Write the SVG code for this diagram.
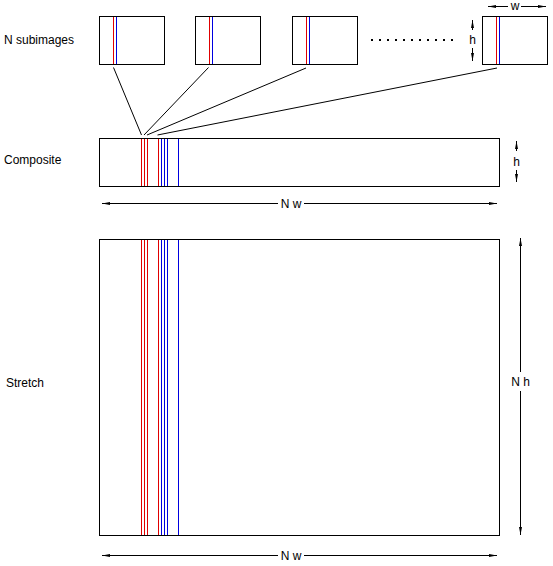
<svg xmlns="http://www.w3.org/2000/svg" width="553" height="566" viewBox="0 0 553 566">
<style>
text{font-family:"Liberation Sans",Arial,sans-serif;font-size:12px;fill:#000}
.box{fill:#fff;stroke:#000;stroke-width:1}
.r{stroke:#e00000;stroke-width:1}
.b{stroke:#0000e0;stroke-width:1}
.c{stroke:#000;stroke-width:1;fill:none}
.dim{stroke:#000;stroke-width:1;fill:none}
.ea{marker-end:url(#ah)}
</style>
<defs>
<marker id="ah" viewBox="0 0 8 6" refX="8" refY="3" markerWidth="8" markerHeight="6" markerUnits="userSpaceOnUse" orient="auto">
<path d="M0,1.5 L8,3 L0,4.5 Z" fill="#000"/>
</marker>
</defs>
<rect width="553" height="566" fill="#fff"/>
<text x="4" y="44">N subimages</text>
<text x="4" y="164">Composite</text>
<text x="6" y="387">Stretch</text>
<g id="sub1">
<rect class="box" x="99.5" y="16.5" width="65" height="48"/>
<line class="r" x1="113.5" y1="17" x2="113.5" y2="64"/>
<line class="b" x1="116.5" y1="17" x2="116.5" y2="64"/>
</g>
<g id="sub2">
<rect class="box" x="195.5" y="16.5" width="65" height="48"/>
<line class="r" x1="209.5" y1="17" x2="209.5" y2="64"/>
<line class="b" x1="212.5" y1="17" x2="212.5" y2="64"/>
</g>
<g id="sub3">
<rect class="box" x="292.5" y="16.5" width="65" height="48"/>
<line class="r" x1="306.5" y1="17" x2="306.5" y2="64"/>
<line class="b" x1="309.5" y1="17" x2="309.5" y2="64"/>
</g>
<g id="dots" fill="#000">
<rect x="371" y="39" width="2" height="2"/><rect x="379" y="39" width="2" height="2"/><rect x="387" y="39" width="2" height="2"/><rect x="395" y="39" width="2" height="2"/><rect x="403" y="39" width="2" height="2"/><rect x="411" y="39" width="2" height="2"/><rect x="419" y="39" width="2" height="2"/><rect x="427" y="39" width="2" height="2"/><rect x="435" y="39" width="2" height="2"/><rect x="443" y="39" width="2" height="2"/><rect x="451" y="39" width="2" height="2"/>
</g>
<g id="sub4">
<rect class="box" x="482.5" y="16.5" width="65" height="48"/>
<line class="r" x1="496.5" y1="17" x2="496.5" y2="64"/>
<line class="b" x1="499.5" y1="17" x2="499.5" y2="64"/>
</g>
<g id="dim-sub">
<line class="dim ea" x1="508" y1="6.5" x2="488" y2="6.5"/>
<line class="dim ea" x1="521" y1="6.5" x2="546" y2="6.5"/>
<text x="515" y="10" text-anchor="middle">w</text>
<line class="dim ea" x1="472.5" y1="30" x2="472.5" y2="20"/>
<line class="dim ea" x1="472.5" y1="48" x2="472.5" y2="61"/>
<text x="472.5" y="44" text-anchor="middle">h</text>
</g>
<g id="composite">
<rect class="box" x="99.5" y="138.5" width="400" height="48"/>
<line class="r" x1="141.5" y1="139" x2="141.5" y2="186"/>
<line class="r" x1="144.5" y1="139" x2="144.5" y2="186"/>
<line class="r" x1="147.5" y1="139" x2="147.5" y2="186"/>
<line class="r" x1="158.5" y1="139" x2="158.5" y2="186"/>
<line class="b" x1="161.5" y1="139" x2="161.5" y2="186"/>
<line class="b" x1="164.5" y1="139" x2="164.5" y2="186"/>
<line class="b" x1="167.5" y1="139" x2="167.5" y2="186"/>
<line class="b" x1="178.5" y1="139" x2="178.5" y2="186"/>
</g>
<g id="dim-composite">
<line class="dim ea" x1="516.5" y1="151" x2="516.5" y2="141"/>
<line class="dim ea" x1="516.5" y1="170" x2="516.5" y2="182"/>
<text x="516.5" y="166" text-anchor="middle">h</text>
<line class="dim ea" x1="278" y1="203.5" x2="102" y2="203.5"/>
<line class="dim ea" x1="304" y1="203.5" x2="497" y2="203.5"/>
<text x="291" y="208" text-anchor="middle">N w</text>
</g>
<g id="stretch">
<rect class="box" x="99.5" y="239.5" width="400" height="296"/>
<line class="r" x1="141.5" y1="240" x2="141.5" y2="535"/>
<line class="r" x1="144.5" y1="240" x2="144.5" y2="535"/>
<line class="r" x1="147.5" y1="240" x2="147.5" y2="535"/>
<line class="r" x1="158.5" y1="240" x2="158.5" y2="535"/>
<line class="b" x1="161.5" y1="240" x2="161.5" y2="535"/>
<line class="b" x1="164.5" y1="240" x2="164.5" y2="535"/>
<line class="b" x1="167.5" y1="240" x2="167.5" y2="535"/>
<line class="b" x1="178.5" y1="240" x2="178.5" y2="535"/>
</g>
<g id="dim-stretch">
<line class="dim ea" x1="520.5" y1="372" x2="520.5" y2="238"/>
<line class="dim ea" x1="520.5" y1="391" x2="520.5" y2="535"/>
<text x="520.5" y="386" text-anchor="middle">N h</text>
<line class="dim ea" x1="278" y1="555.5" x2="102" y2="555.5"/>
<line class="dim ea" x1="304" y1="555.5" x2="497" y2="555.5"/>
<text x="291" y="560" text-anchor="middle">N w</text>
</g>
<g id="connectors">
<line class="c" x1="113.5" y1="67.5" x2="141.5" y2="135"/>
<line class="c" x1="208.5" y1="67.5" x2="144" y2="135"/>
<line class="c" x1="306" y1="68" x2="147" y2="135"/>
<line class="c" x1="497" y1="68" x2="157.5" y2="135"/>
</g>
</svg>
